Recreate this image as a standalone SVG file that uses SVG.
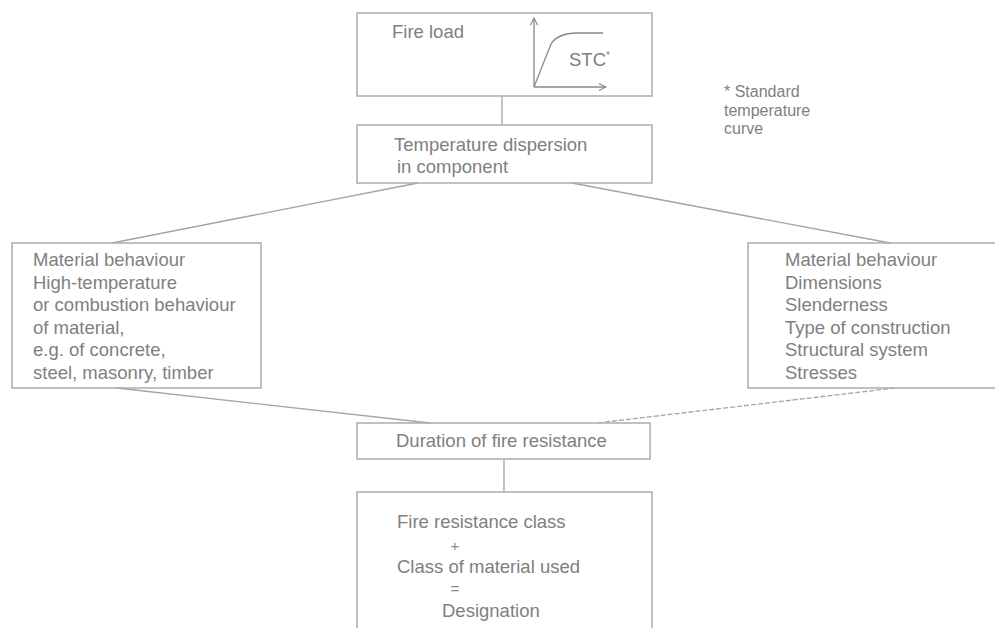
<svg xmlns="http://www.w3.org/2000/svg" width="995" height="628" viewBox="0 0 995 628">
<defs>
<style>
.box{fill:none;stroke:#acacac;stroke-width:1.5}
.ln{fill:none;stroke:#a4a4a4;stroke-width:1.3}
.dl{fill:none;stroke:#a4a4a4;stroke-width:1.3;stroke-dasharray:5,2}
.t{font-family:"Liberation Sans",Arial,sans-serif;font-size:18.5px;fill:#808080}
.s{font-family:"Liberation Sans",Arial,sans-serif;font-size:16px;fill:#808080}
.m{font-family:"Liberation Sans",Arial,sans-serif;font-size:15px;fill:#8a8a8a}
</style>
<marker id="ah" viewBox="0 0 10 10" refX="9" refY="5" markerWidth="9" markerHeight="9" orient="auto" markerUnits="userSpaceOnUse">
<path d="M1,1 L9,5 L1,9" fill="none" stroke="#888" stroke-width="1.2"/>
</marker>
</defs>
<rect width="995" height="628" fill="#fff"/>
<g id="connectors">
<line class="ln" x1="502" y1="96" x2="502" y2="125"/>
<line class="ln" x1="418" y1="183" x2="112" y2="243"/>
<line class="ln" x1="572" y1="183" x2="890" y2="243"/>
<line class="ln" x1="117" y1="388" x2="430" y2="423"/>
<line class="dl" x1="895" y1="388" x2="597" y2="423"/>
<line class="ln" x1="504" y1="459" x2="504" y2="492"/>
</g>
<g id="fire-load">
<rect class="box" x="357" y="13" width="295" height="83"/>
<text class="t" x="392" y="38">Fire load</text>
<line x1="534" y1="87" x2="534" y2="18" stroke="#888" stroke-width="1.3" marker-end="url(#ah)"/>
<line x1="534" y1="87" x2="606" y2="87" stroke="#888" stroke-width="1.3" marker-end="url(#ah)"/>
<path d="M534,87 L551,44 Q557,34 575,33 L603,33" fill="none" stroke="#888" stroke-width="1.3"/>
<text class="t" x="569" y="66">STC<tspan font-size="10" dy="-7">*</tspan></text>
</g>
<g id="footnote">
<text class="s" x="724" y="97">* Standard</text>
<text class="s" x="724" y="115.5">temperature</text>
<text class="s" x="724" y="134">curve</text>
</g>
<g id="temperature">
<rect class="box" x="357" y="125" width="295" height="58"/>
<text class="t" x="394" y="151">Temperature dispersion</text>
<text class="t" x="397" y="173">in component</text>
</g>
<g id="material-left">
<rect class="box" x="12" y="243" width="249" height="145"/>
<text class="t" x="33" y="266">Material behaviour</text>
<text class="t" x="33" y="288.5">High-temperature</text>
<text class="t" x="33" y="311">or combustion behaviour</text>
<text class="t" x="33" y="333.5">of material,</text>
<text class="t" x="33" y="356">e.g. of concrete,</text>
<text class="t" x="33" y="378.5">steel, masonry, timber</text>
</g>
<g id="material-right">
<rect class="box" x="748" y="243" width="260" height="145"/>
<text class="t" x="785" y="266">Material behaviour</text>
<text class="t" x="785" y="288.5">Dimensions</text>
<text class="t" x="785" y="311">Slenderness</text>
<text class="t" x="785" y="333.5">Type of construction</text>
<text class="t" x="785" y="356">Structural system</text>
<text class="t" x="785" y="378.5">Stresses</text>
</g>
<g id="duration">
<rect class="box" x="357" y="423" width="293" height="36"/>
<text class="t" x="396" y="447">Duration of fire resistance</text>
</g>
<g id="designation">
<rect class="box" x="357" y="492" width="295" height="160"/>
<text class="t" x="397" y="528">Fire resistance class</text>
<text class="m" x="455" y="551" text-anchor="middle">+</text>
<text class="t" x="397" y="573">Class of material used</text>
<text class="m" x="455" y="594" text-anchor="middle">=</text>
<text class="t" x="442" y="617">Designation</text>
</g>
</svg>
